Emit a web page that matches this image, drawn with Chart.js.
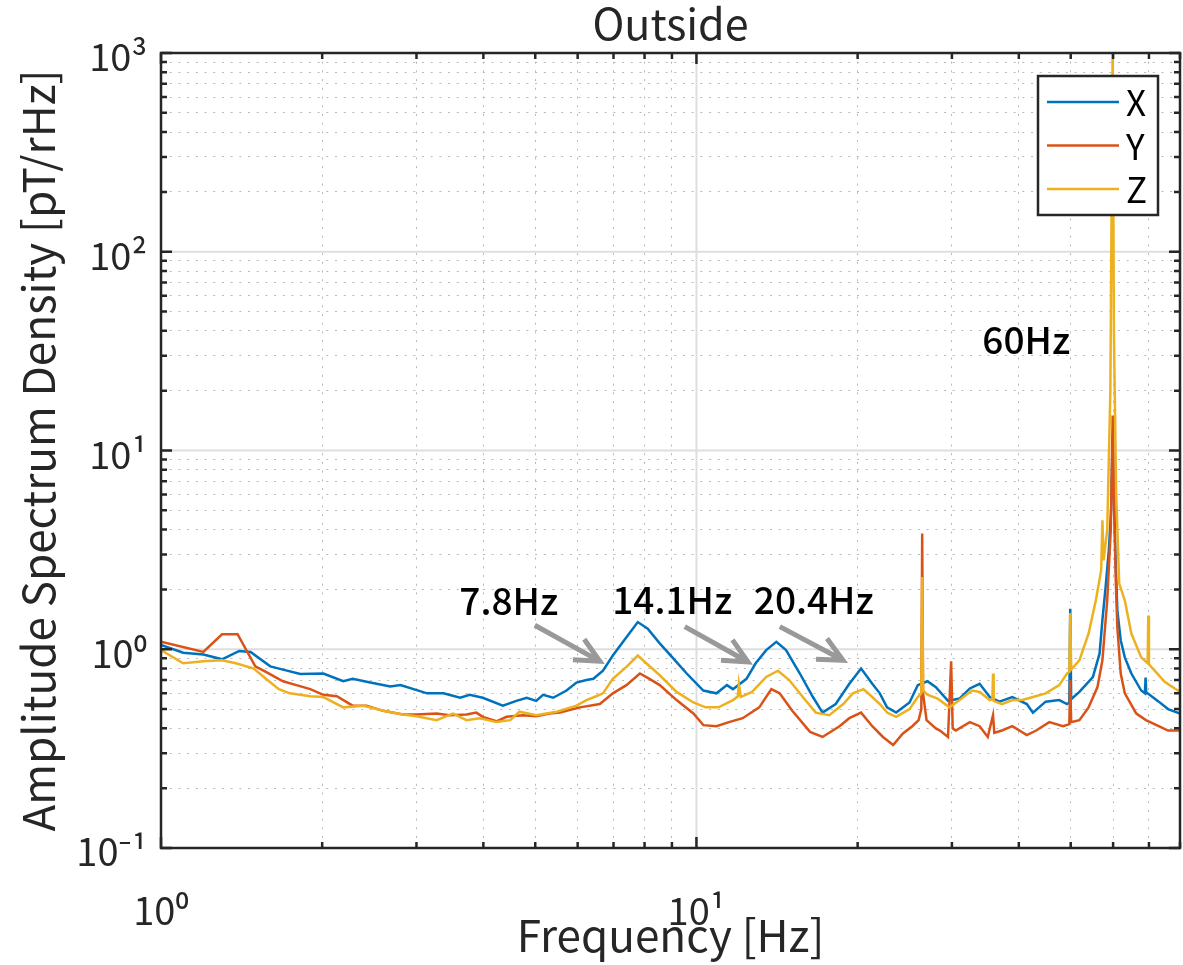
<!DOCTYPE html>
<html>
<head>
<meta charset="utf-8">
<script src="https://cdn.jsdelivr.net/npm/chart.js@4.4.1/dist/chart.umd.min.js"></script>
<style>
  html, body { margin: 0; padding: 0; background: #fff; }
</style>
</head>
<body>
<canvas id="myChart" width="1183" height="965"></canvas>
<script>
// values (frequency in Hz, ASD in pT/rHz)
const freqX = [1.0,1.1,1.2,1.3,1.4,1.47,1.6,1.69,1.82,2.01,2.19,2.28,2.46,2.68,2.8,3.14,3.37,3.62,3.77,3.99,4.35,4.61,4.82,5.02,5.17,5.4,5.72,5.97,6.23,6.42,6.69,6.98,7.4,7.77,8.11,8.54,9.05,9.59,10.3,10.9,11.4,11.7,12.4,12.9,13.5,14.1,14.7,15.6,16.5,17.2,18.2,19.3,20.3,21.3,22.0,22.7,23.6,25.0,25.9,27.0,28.0,29.5,31.0,32.4,33.8,35.3,36.8,38.9,41.4,42.5,44.9,47.6,49.2,49.7,49.9,50.1,51.9,55.0,56.6,57.3,58.1,58.9,59.5,59.9,60.1,60.6,61.1,62.0,63.1,64.9,67.7,68.8,69.0,69.2,69.6,73.0,76.0,80];
const asdX = [1.05,0.96,0.94,0.89,0.98,0.97,0.82,0.79,0.75,0.755,0.69,0.71,0.68,0.65,0.66,0.60,0.60,0.57,0.59,0.57,0.52,0.55,0.57,0.55,0.59,0.57,0.62,0.68,0.70,0.71,0.78,0.93,1.15,1.37,1.27,1.07,0.90,0.755,0.62,0.60,0.66,0.63,0.71,0.85,0.99,1.09,0.99,0.755,0.575,0.48,0.53,0.67,0.80,0.67,0.60,0.51,0.48,0.54,0.66,0.69,0.645,0.55,0.565,0.635,0.67,0.575,0.545,0.575,0.53,0.48,0.545,0.555,0.53,0.54,1.60,0.56,0.61,0.725,0.95,1.40,2.06,3.14,5.0,12,8,3,1.57,1.11,0.91,0.755,0.62,0.60,0.72,0.60,0.60,0.545,0.50,0.475];

const freqY = [1.0,1.2,1.3,1.39,1.5,1.57,1.69,1.79,1.9,2.01,2.13,2.28,2.42,2.6,2.83,3.0,3.27,3.46,3.72,3.88,3.99,4.23,4.42,4.74,5.02,5.32,5.56,5.72,6.06,6.6,6.98,7.4,7.84,8.17,8.54,9.18,9.87,10.3,10.9,11.5,12.2,13.1,13.8,14.3,15.1,16.3,17.2,18.5,19.3,20.3,21.3,22.3,23.3,24.3,25.3,26.0,26.3,26.4,26.5,26.9,28.0,28.5,29.5,29.9,30.1,30.5,32.4,33.8,35.0,35.8,36.0,37.2,38.9,41.4,43.1,45.6,48.4,49.7,49.9,50.1,51.9,54.0,56.1,57.3,58.5,59.4,59.9,60.2,60.7,61.1,62.0,63.1,66.3,69.1,73.0,76.0,80];
const asdY = [1.09,0.97,1.19,1.19,0.82,0.77,0.69,0.66,0.63,0.59,0.58,0.52,0.52,0.49,0.47,0.47,0.475,0.466,0.47,0.48,0.457,0.434,0.457,0.466,0.46,0.475,0.48,0.49,0.51,0.53,0.60,0.66,0.755,0.71,0.66,0.555,0.475,0.415,0.41,0.43,0.45,0.51,0.63,0.60,0.49,0.384,0.362,0.41,0.45,0.48,0.41,0.362,0.33,0.377,0.41,0.44,0.50,3.82,0.60,0.44,0.40,0.39,0.362,0.87,0.40,0.39,0.43,0.41,0.362,0.466,0.38,0.39,0.41,0.37,0.39,0.43,0.41,0.42,0.70,0.43,0.44,0.51,0.645,0.88,1.76,4,15,6,2.2,1.29,0.755,0.60,0.475,0.44,0.41,0.39,0.39];

const freqZ = [1.0,1.1,1.2,1.3,1.38,1.49,1.57,1.66,1.74,1.9,2.01,2.19,2.39,2.6,2.83,3.0,3.27,3.51,3.72,3.94,4.23,4.49,4.67,5.02,5.48,5.97,6.23,6.5,6.69,6.98,7.4,7.77,8.06,8.54,9.18,9.87,10.4,11.0,11.7,11.95,12.0,12.1,12.7,13.5,14.2,14.9,15.8,16.7,17.7,18.8,19.6,20.5,21.3,22.0,22.7,23.6,25.0,25.9,26.3,26.4,26.5,27.0,28.2,29.7,31.0,32.7,33.8,35.3,35.7,35.8,35.9,37.2,38.9,40.6,42.5,44.9,47.6,49.2,49.7,49.9,50.1,51.9,54.0,55.7,57.0,57.3,57.6,58.5,59.3,59.9,60.2,60.8,61.6,63.1,64.9,67.7,69.6,69.8,70.0,71.6,74.9,80];
const asdZ = [0.99,0.85,0.87,0.88,0.85,0.80,0.71,0.63,0.60,0.58,0.575,0.51,0.52,0.49,0.47,0.46,0.44,0.475,0.44,0.45,0.43,0.44,0.485,0.466,0.485,0.52,0.555,0.58,0.60,0.71,0.815,0.93,0.85,0.74,0.61,0.54,0.51,0.51,0.555,0.58,0.67,0.575,0.61,0.725,0.78,0.70,0.575,0.48,0.466,0.53,0.60,0.63,0.575,0.53,0.48,0.457,0.50,0.575,0.60,2.31,0.62,0.59,0.565,0.51,0.555,0.62,0.61,0.555,0.56,0.755,0.55,0.53,0.555,0.555,0.575,0.60,0.66,0.755,0.77,1.52,0.79,0.88,1.2,1.76,2.5,4.45,2.8,4,20,1200,40,6,2.14,1.76,1.2,0.91,0.85,1.48,0.84,0.785,0.685,0.61];

const seriesNames = ["X", "Y", "Z"];
const seriesColors = ["#0072BD", "#D95319", "#EDB120"];

// tick positions and their labels
const xTickValues = [1,2,3,4,5,6,7,8,9,10,20,30,40,50,60,70,80];
const xTickText   = ["10⁰","","","","","","","","","10¹","","","","","","",""];
const xMajor = [1, 10];
const yTickValues = [0.1,0.2,0.3,0.4,0.5,0.6,0.7,0.8,0.9,1,2,3,4,5,6,7,8,9,10,20,30,40,50,60,70,80,90,100,200,300,400,500,600,700,800,900,1000];
const yTickText = yTickValues.map(v => ({0.1: "10⁻¹", 1: "10⁰", 10: "10¹", 100: "10²", 1000: "10³"}[v] || ""));
const yMajor = [0.1, 1, 10, 100, 1000];

// peak notes: label anchor and arrow ends in data units
const notes = [
    { text: "7.8Hz",  at: [4.46, 1.76],  from: [4.99, 1.32],  to: [6.60, 0.87] },
    { text: "14.1Hz", at: [9.01, 1.78],  from: [9.51, 1.30],  to: [12.48, 0.863] },
    { text: "20.4Hz", at: [16.56, 1.78], from: [14.31, 1.30], to: [18.78, 0.881] },
    { text: "60Hz",   at: [41.3, 35.8] },
];

const FONT = "'Noto Sans CJK JP', 'Noto Sans', sans-serif";
const INK = "#262626";

function toPoints(fs, vs) {
    return fs.map((f, i) => ({ x: f, y: vs[i] }));
}

const majorGrid = {
    id: "majorGrid",
    beforeDatasetsDraw(chart) {
        const { ctx, chartArea: a, scales: { x, y } } = chart;
        ctx.save();
        ctx.strokeStyle = "#dedede";
        ctx.lineWidth = 2;
        xMajor.forEach(v => {
            const px = x.getPixelForValue(v);
            ctx.beginPath(); ctx.moveTo(px, a.top); ctx.lineTo(px, a.bottom); ctx.stroke();
        });
        yMajor.forEach(v => {
            const py = y.getPixelForValue(v);
            ctx.beginPath(); ctx.moveTo(a.left, py); ctx.lineTo(a.right, py); ctx.stroke();
        });
        ctx.restore();
    }
};

function arrow(ctx, x0, y0, x1, y1) {
    const ang = Math.atan2(y1 - y0, x1 - x0);
    const head = 27, spread = 0.45;
    ctx.beginPath();
    ctx.moveTo(x0, y0); ctx.lineTo(x1 - 3 * Math.cos(ang), y1 - 3 * Math.sin(ang));
    ctx.moveTo(x1 - head * Math.cos(ang - spread), y1 - head * Math.sin(ang - spread));
    ctx.lineTo(x1, y1);
    ctx.lineTo(x1 - head * Math.cos(ang + spread), y1 - head * Math.sin(ang + spread));
    ctx.stroke();
}

const frameAndNotes = {
    id: "frameAndNotes",
    afterDatasetsDraw(chart) {
        const { ctx, chartArea: a, scales: { x, y } } = chart;
        ctx.save();
        // arrows + labels
        ctx.strokeStyle = "#999999";
        ctx.lineWidth = 5;
        ctx.lineCap = "butt";
        ctx.lineJoin = "miter";
        notes.forEach(n => {
            if (n.from) {
                arrow(ctx, x.getPixelForValue(n.from[0]), y.getPixelForValue(n.from[1]),
                           x.getPixelForValue(n.to[0]), y.getPixelForValue(n.to[1]));
            }
        });
        ctx.fillStyle = "#000";
        ctx.font = "500 37px " + FONT;
        ctx.textAlign = "center";
        ctx.textBaseline = "middle";
        notes.forEach(n => {
            ctx.fillText(n.text, x.getPixelForValue(n.at[0]), y.getPixelForValue(n.at[1]));
        });

        // box and inward ticks
        ctx.strokeStyle = INK;
        ctx.lineWidth = 2.5;
        ctx.beginPath();
        xTickValues.forEach(v => {
            const px = x.getPixelForValue(v);
            const len = xMajor.includes(v) ? 11 : 6;
            ctx.moveTo(px, a.bottom); ctx.lineTo(px, a.bottom - len);
            ctx.moveTo(px, a.top); ctx.lineTo(px, a.top + len);
        });
        yTickValues.forEach(v => {
            const py = y.getPixelForValue(v);
            const len = yMajor.includes(v) ? 11 : 6;
            ctx.moveTo(a.left, py); ctx.lineTo(a.left + len, py);
            ctx.moveTo(a.right, py); ctx.lineTo(a.right - len, py);
        });
        ctx.stroke();
        ctx.strokeRect(a.left, a.top, a.right - a.left, a.bottom - a.top);

        // legend box
        const bx = a.right - 142, by = a.top + 23, bw = 120, bh = 139;
        ctx.fillStyle = "#fff";
        ctx.fillRect(bx, by, bw, bh);
        ctx.strokeRect(bx, by, bw, bh);
        ctx.font = "35px " + FONT;
        ctx.textAlign = "left";
        ctx.textBaseline = "middle";
        chart.data.datasets.forEach((ds, i) => {
            const ly = by + 26 + i * 43.5;
            ctx.strokeStyle = ds.borderColor;
            ctx.lineWidth = 2.4;
            ctx.beginPath(); ctx.moveTo(bx + 9, ly); ctx.lineTo(bx + 81, ly); ctx.stroke();
            ctx.fillStyle = "#000";
            ctx.fillText(ds.label, bx + 88, ly + 1);
        });
        ctx.restore();
    }
};

const ctx = document.getElementById("myChart");
new Chart(ctx, {
    type: "line",
    data: {
        datasets: [
            { label: seriesNames[0], data: toPoints(freqX, asdX), borderColor: seriesColors[0], order: 3 },
            { label: seriesNames[1], data: toPoints(freqY, asdY), borderColor: seriesColors[1], order: 2 },
            { label: seriesNames[2], data: toPoints(freqZ, asdZ), borderColor: seriesColors[2], order: 1 },
        ],
    },
    options: {
        responsive: false,
        animation: false,
        layout: { padding: { left: 0, right: 3, top: 0, bottom: 0 } },
        elements: {
            line: { borderWidth: 2.5, tension: 0, fill: false },
            point: { radius: 0, hoverRadius: 0 },
        },
        plugins: {
            legend: { display: false },
            tooltip: { enabled: false },
            title: {
                display: true,
                text: "Outside",
                fullSize: false,
                color: INK,
                font: { family: FONT, size: 43, weight: "normal", lineHeight: 1 },
                padding: { top: 2, bottom: 8 },
            },
        },
        scales: {
            x: {
                type: "logarithmic",
                min: 1,
                max: 80,
                afterBuildTicks: (s) => { s.ticks = xTickValues.map(v => ({ value: v, major: xMajor.includes(v) })); },
                afterFit: (s) => { s.height = 117; s.paddingLeft = 0; s.paddingRight = 0; },
                ticks: {
                    autoSkip: false, maxRotation: 0, minRotation: 0,
                    callback: (v, i) => xTickText[i],
                    color: INK, padding: 40,
                    font: { family: FONT, size: 38 },
                },
                grid: {
                    drawTicks: false,
                    lineWidth: 1,
                    color: (c) => (c.tick && xMajor.includes(c.tick.value)) ? "rgba(0,0,0,0)" : "#b8b8b8",
                },
                border: { display: false, dash: [2, 6.7] },
                title: {
                    display: true, text: "Frequency [Hz]", color: INK,
                    font: { family: FONT, size: 44, lineHeight: 1 },
                    padding: { top: 0, bottom: 8 },
                },
            },
            y: {
                type: "logarithmic",
                min: 0.1,
                max: 1000,
                afterBuildTicks: (s) => { s.ticks = yTickValues.map(v => ({ value: v, major: yMajor.includes(v) })); },
                afterFit: (s) => { s.width = 161; s.paddingTop = 0; s.paddingBottom = 0; },
                ticks: {
                    autoSkip: false,
                    callback: (v, i) => yTickText[i],
                    color: INK, padding: 14, labelOffset: 4,
                    font: { family: FONT, size: 38 },
                },
                grid: {
                    drawTicks: false,
                    lineWidth: 1,
                    color: (c) => (c.tick && yMajor.includes(c.tick.value)) ? "rgba(0,0,0,0)" : "#b8b8b8",
                },
                border: { display: false, dash: [2, 6.7] },
                title: {
                    display: true, text: "Amplitude Spectrum Density [pT/rHz]", color: INK,
                    font: { family: FONT, size: 44, lineHeight: 1 },
                    padding: { top: 16, bottom: 0 },
                },
            },
        },
    },
    plugins: [majorGrid, frameAndNotes],
});
</script>
</body>
</html>
